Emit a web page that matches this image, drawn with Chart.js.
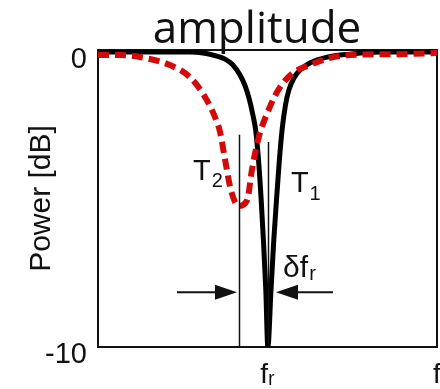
<!DOCTYPE html>
<html>
<head>
<meta charset="utf-8">
<script src="https://cdn.jsdelivr.net/npm/chart.js@4.4.1/dist/chart.umd.min.js"></script>
<style>
  html, body { margin: 0; padding: 0; background: #fff; }
  #c { display: block; }
</style>
</head>
<body>
<canvas id="c" width="440" height="389"></canvas>
<script>
// Texts
const chartTitle = 'amplitude';
const yAxisTitle = 'Power [dB]';
const yTickValues = [-10, 0];
const yTickLabels = ['-10', '0'];
const xTickValues = [50, 100];
const xTickLabels = ['fᵣ', 'f'];

// Narrow resonance (temperature T1), solid black
const freqT1  = [0, 27.1, 31.0, 34.5, 37.5, 39.8, 41.9, 43.4, 44.7, 45.7, 46.5, 47.35, 48.14, 48.79, 49.5, 50.1, 51.03, 51.86, 52.65, 53.5, 54.3, 55.3, 56.3, 57.8, 59.6, 62.5, 67.6, 74.3, 83.2, 100];
const powerT1 = [0, 0, -0.03, -0.12, -0.24, -0.44, -0.78, -1.15, -1.63, -2.14, -2.64, -3.66, -5.02, -6.37, -8.07, -10, -8.07, -6.37, -5.02, -3.66, -2.64, -1.8, -1.29, -0.88, -0.61, -0.37, -0.17, -0.07, 0, 0];

// Broadened, shifted resonance (temperature T2), dashed red
const freqT2  = [0, 6.5, 12.4, 21.2, 27.1, 31.6, 34.5, 36.0, 37.5, 39.2, 41.5, 44.0, 45.4, 47.2, 50.7, 53.7, 57.5, 62.5, 68.4, 74.3, 89.1, 100];
const powerT2 = [-0.1, -0.1, -0.17, -0.44, -0.85, -1.53, -2.2, -2.71, -3.66, -4.68, -5.22, -5.02, -4.0, -2.98, -1.86, -1.19, -0.71, -0.44, -0.2, -0.1, -0.07, -0.03];

const toPoints = (xs, ys) => xs.map((v, i) => ({ x: v, y: ys[i] }));

const SANS = '"Liberation Sans", Arial, "DejaVu Sans", sans-serif';
const INK = '#111';

function textWithSub(ctx, base, sub, x, y, size, subSize, drop) {
  ctx.font = size + 'px ' + SANS;
  ctx.textAlign = 'left';
  ctx.textBaseline = 'alphabetic';
  ctx.fillText(base, x, y);
  const w = ctx.measureText(base).width;
  ctx.font = subSize + 'px ' + SANS;
  ctx.fillText(sub, x + w + 1, y + drop);
}

function arrow(ctx, x0, x1, y) {
  const dir = Math.sign(x1 - x0);
  const headLen = 22, headHalf = 7.5;
  ctx.beginPath();
  ctx.moveTo(x0, y);
  ctx.lineTo(x1 - dir * headLen, y);
  ctx.lineWidth = 2;
  ctx.stroke();
  ctx.beginPath();
  ctx.moveTo(x1, y);
  ctx.lineTo(x1 - dir * headLen, y - headHalf);
  ctx.lineTo(x1 - dir * headLen, y + headHalf);
  ctx.closePath();
  ctx.fill();
}

const overlay = {
  id: 'overlay',
  beforeDatasetsDraw(chart) {
    const { ctx, chartArea: a } = chart;
    ctx.save();
    ctx.strokeStyle = INK;
    ctx.lineWidth = 2;
    ctx.strokeRect(a.left, a.top, a.right - a.left, a.bottom - a.top);
    ctx.restore();
  },
  afterDatasetsDraw(chart) {
    const { ctx, scales: { x, y } } = chart;
    ctx.save();
    ctx.strokeStyle = INK;
    ctx.fillStyle = INK;

    // resonance markers
    ctx.lineWidth = 1.5;
    [[41.5, -2.8], [50.1, -3.05]].forEach(([f, top]) => {
      const px = Math.round(x.getPixelForValue(f)) + 0.5;
      ctx.beginPath();
      ctx.moveTo(px, y.getPixelForValue(top));
      ctx.lineTo(px, y.getPixelForValue(-10));
      ctx.stroke();
    });

    // frequency shift arrows
    const ay = y.getPixelForValue(-8.14);
    arrow(ctx, x.getPixelForValue(23.3), x.getPixelForValue(41.0), ay);
    arrow(ctx, x.getPixelForValue(69.3), x.getPixelForValue(52.5), ay);

    // curve labels
    textWithSub(ctx, 'T', '2', x.getPixelForValue(28.0), y.getPixelForValue(-4.34), 29, 20, 7);
    textWithSub(ctx, 'T', '1', x.getPixelForValue(56.9), y.getPixelForValue(-4.75), 29, 20, 8);
    textWithSub(ctx, 'δf', 'r', x.getPixelForValue(54.6), y.getPixelForValue(-7.63), 30, 20, 3);

    // chart title
    ctx.font = '44px "Open Sans", ' + SANS;
    ctx.textAlign = 'center';
    ctx.textBaseline = 'alphabetic';
    ctx.fillText(chartTitle, x.getPixelForValue(46.9), chart.chartArea.top - 7);
    ctx.restore();
  }
};

new Chart(document.getElementById('c'), {
  type: 'line',
  data: {
    datasets: [
      {
        label: 'T2',
        data: toPoints(freqT2, powerT2),
        borderColor: '#d40a0a',
        borderWidth: 6,
        borderDash: [11, 6],
        borderCapStyle: 'butt',
        pointRadius: 0,
        cubicInterpolationMode: 'monotone',
        order: 0
      },
      {
        label: 'T1',
        data: toPoints(freqT1, powerT1),
        borderColor: '#000',
        borderWidth: 5,
        pointRadius: 0,
        cubicInterpolationMode: 'monotone',
        order: 1
      }
    ]
  },
  options: {
    responsive: false,
    animation: false,
    events: [],
    layout: { padding: { top: 50, right: 3, left: 0, bottom: 0 } },
    plugins: {
      legend: { display: false },
      tooltip: { enabled: false },
      title: { display: false }
    },
    scales: {
      x: {
        type: 'linear',
        min: 0,
        max: 100,
        grid: { display: false, drawTicks: false },
        border: { display: false },
        afterBuildTicks(s) { s.ticks = xTickValues.map(v => ({ value: v })); },
        afterFit(s) { s.height = 42; s.paddingLeft = 0; s.paddingRight = 0; },
        ticks: {
          autoSkip: false,
          maxRotation: 0,
          padding: 11,
          color: INK,
          font: { family: SANS, size: 28 },
          callback: v => xTickLabels[xTickValues.indexOf(v)]
        }
      },
      y: {
        type: 'linear',
        min: -10,
        max: 0.07,
        grid: { display: false, drawTicks: false },
        border: { display: false },
        afterBuildTicks(s) { s.ticks = yTickValues.map(v => ({ value: v })); },
        afterFit(s) { s.width = 98; },
        ticks: {
          padding: 11,
          labelOffset: 8,
          color: INK,
          font: { family: SANS, size: 29 },
          callback: v => yTickLabels[yTickValues.indexOf(v)]
        },
        title: {
          display: true,
          text: yAxisTitle,
          color: INK,
          font: { family: SANS, size: 30 },
          padding: { top: 24, bottom: 0 }
        }
      }
    }
  },
  plugins: [overlay]
});
</script>
</body>
</html>
